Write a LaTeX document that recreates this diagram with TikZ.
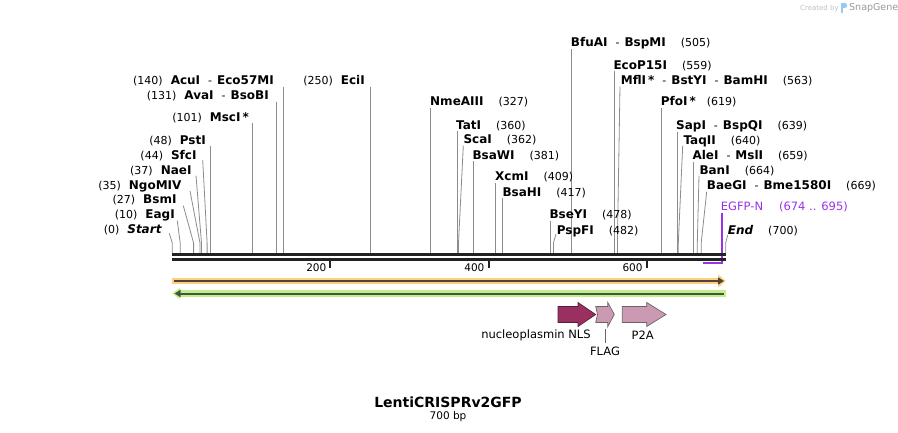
\documentclass[tikz,border=0pt]{standalone}
\usepackage{fontspec}
\setmainfont{DejaVu Sans}
\usetikzlibrary{arrows.meta}
\definecolor{cutgray}{RGB}{140,140,140}
\definecolor{backbone}{RGB}{34,34,34}
\definecolor{orfor}{RGB}{255,207,128}
\definecolor{orfordark}{RGB}{80,68,56}
\definecolor{orfgr}{RGB}{192,240,140}
\definecolor{orfgrdark}{RGB}{72,84,62}
\definecolor{nlsred}{RGB}{153,48,96}
\definecolor{nlsline}{RGB}{90,30,60}
\definecolor{featpink}{RGB}{204,153,179}
\definecolor{primer}{RGB}{153,51,230}
\definecolor{snapblue}{RGB}{150,200,240}
\newcommand{\enz}[1]{{\fontsize{12}{14}\selectfont\bfseries #1}}
\newcommand{\enzsep}{\hspace{8pt}-\hspace{5pt}}
\begin{document}
\begin{tikzpicture}[x=1pt,y=-1pt,
  cut/.style={cutgray,line width=0.8pt},
  lbl/.style={inner sep=0pt,font=\fontsize{11}{13}\selectfont},
  featlbl/.style={inner sep=0pt,font=\fontsize{11.5}{13}\selectfont}]
  \useasboundingbox (0,0) rectangle (898,433);
  % Watermark
  \node[inner sep=0pt,anchor=base west,text=black!25,font=\fontsize{7}{8}\selectfont] (made) at (800,10.5) {Created by};
  \fill[snapblue] (840.5,3) rectangle (843,13);
  \fill[snapblue] (843,3) -- (845,3) to[out=0,in=90] (847,5.5) to[out=-90,in=0] (845,8) -- (843,8) -- cycle;
  \node[inner sep=0pt,anchor=base west,text=black!40,font=\fontsize{9.5}{10}\selectfont] (snapgene) at (849,11) {SnapGene};
  % Enzyme cut lines (left side)
  \draw[cut] (169.3,233.3) -- (172.3,243) -- (172.3,253.5);
  \draw[cut] (177.3,220.7) -- (180.2,243) -- (180.2,253.5);
  \draw[cut] (183.3,205.7) -- (193.6,243) -- (193.6,253.5);
  \draw[cut] (190,191) -- (200,243) -- (200,253.5);
  \draw[cut] (196,175.7) -- (201.5,243) -- (201.5,253.5);
  \draw[cut] (202.7,160) -- (207.1,243) -- (207.1,253.5);
  \draw[cut] (210.2,146) -- (210.2,253.5);
  \draw[cut] (252.2,122.7) -- (252.2,253.5);
  \draw[cut] (275.9,101.7) -- (275.9,253.5);
  \draw[cut] (283,86.7) -- (283,253.5);
  \draw[cut] (369.9,86.7) -- (369.9,253.5);
  % Enzyme cut lines (right side)
  \draw[cut] (430.8,108.3) -- (430.8,253.5);
  \draw[cut] (456.9,131) -- (456.9,253.5);
  \draw[cut] (463.3,145.7) -- (458.5,243) -- (458.5,253.5);
  \draw[cut] (473.5,161) -- (473.5,253.5);
  \draw[cut] (495.7,182.7) -- (495.7,253.5);
  \draw[cut] (502,198.3) -- (502,253.5);
  \draw[cut] (550.2,221) -- (550.2,253.5);
  \draw[cut] (556,234) -- (553.4,243) -- (553.4,253.5);
  \draw[cut] (571.5,49) -- (571.5,253.5);
  \draw[cut] (614.2,70.7) -- (614.2,253.5);
  \draw[cut] (620,86.7) -- (617.4,243) -- (617.4,253.5);
  \draw[cut] (661.7,108.3) -- (661.7,253.5);
  \draw[cut] (677.5,131.7) -- (677.5,253.5);
  \draw[cut] (682.7,145.7) -- (678.3,243) -- (678.3,253.5);
  \draw[cut] (693.3,161.7) -- (693.3,253.5);
  \draw[cut] (699,175.7) -- (697.3,243) -- (697.3,253.5);
  \draw[cut] (706.7,191.7) -- (701.2,243) -- (701.2,253.5);
  \draw[cut] (727.7,235) -- (725.7,243) -- (725.7,253.5);
  % Labels (left side)
  \node[lbl,anchor=base east] (start) at (161.7,233.6) {(0)\hspace{8pt}\enz{\itshape Start}};
  \node[lbl,anchor=base east] (eagi) at (175,218.6) {(10)\hspace{8pt}\enz{EagI}};
  \node[lbl,anchor=base east] (bsmi) at (176.7,203.6) {(27)\hspace{8pt}\enz{BsmI}};
  \node[lbl,anchor=base east] (ngomiv) at (181.7,189.3) {(35)\hspace{8pt}\enz{NgoMIV}};
  \node[lbl,anchor=base east] (naei) at (191.7,174.3) {(37)\hspace{8pt}\enz{NaeI}};
  \node[lbl,anchor=base east] (sfci) at (196.7,159.3) {(44)\hspace{8pt}\enz{SfcI}};
  \node[lbl,anchor=base east] (psti) at (206,144.3) {(48)\hspace{8pt}\enz{PstI}};
  \node[lbl,anchor=base east] (msci) at (249,121.6) {(101)\hspace{8pt}\enz{MscI\,*}};
  \node[lbl,anchor=base east] (avai) at (269,99.3) {(131)\hspace{8pt}\enz{AvaI}\enzsep\enz{BsoBI}};
  \node[lbl,anchor=base east] (acui) at (274,84.3) {(140)\hspace{8pt}\enz{AcuI}\enzsep\enz{Eco57MI}};
  \node[lbl,anchor=base east] (ecii) at (365,84.3) {(250)\hspace{8pt}\enz{EciI}};
  % Labels (right side)
  \node[lbl,anchor=base west] (nmeaiii) at (430,106) {\enz{NmeAIII}\hspace{15pt}(327)};
  \node[lbl,anchor=base west] (tati) at (456,130) {\enz{TatI}\hspace{15pt}(360)};
  \node[lbl,anchor=base west] (scai) at (463.3,143.6) {\enz{ScaI}\hspace{15pt}(362)};
  \node[lbl,anchor=base west] (bsawi) at (472.3,159.3) {\enz{BsaWI}\hspace{15pt}(381)};
  \node[lbl,anchor=base west] (xcmi) at (495,181) {\enz{XcmI}\hspace{15pt}(409)};
  \node[lbl,anchor=base west] (bsahi) at (502.3,196.6) {\enz{BsaHI}\hspace{15pt}(417)};
  \node[lbl,anchor=base west] (bseyi) at (549.3,218.6) {\enz{BseYI}\hspace{15pt}(478)};
  \node[lbl,anchor=base west] (pspfi) at (556.7,234.3) {\enz{PspFI}\hspace{15pt}(482)};
  \node[lbl,anchor=base west] (bfuai) at (570.7,47) {\enz{BfuAI}\enzsep\enz{BspMI}\hspace{15pt}(505)};
  \node[lbl,anchor=base west] (ecop15i) at (613.3,69.3) {\enz{EcoP15I}\hspace{15pt}(559)};
  \node[lbl,anchor=base west] (mfli) at (620.7,84.3) {\enz{MflI\,*}\enzsep\enz{BstYI}\enzsep\enz{BamHI}\hspace{15pt}(563)};
  \node[lbl,anchor=base west] (pfoi) at (660.7,106) {\enz{PfoI\,*}\hspace{11pt}(619)};
  \node[lbl,anchor=base west] (sapi) at (676,129.3) {\enz{SapI}\enzsep\enz{BspQI}\hspace{15pt}(639)};
  \node[lbl,anchor=base west] (taqii) at (683.3,144.3) {\enz{TaqII}\hspace{15pt}(640)};
  \node[lbl,anchor=base west] (alei) at (692.3,159.3) {\enz{AleI}\enzsep\enz{MslI}\hspace{15pt}(659)};
  \node[lbl,anchor=base west] (bani) at (699.3,174.3) {\enz{BanI}\hspace{15pt}(664)};
  \node[lbl,anchor=base west] (baegi) at (706.7,189.3) {\enz{BaeGI}\enzsep\enz{Bme1580I}\hspace{15pt}(669)};
  \node[lbl,anchor=base west] (endlbl) at (727.7,234.3) {\enz{\itshape End}\hspace{15pt}(700)};
  % Primer EGFP-N
  \node[inner sep=0pt,anchor=base west,text=primer,font=\fontsize{11.5}{13}\selectfont] (egfpn) at (720.7,211) {EGFP-N\hspace{16pt}(674 .. 695)};
  \draw[primer,line width=1.6pt] (721.8,212.7) -- (721.8,263.3) -- (703.3,263.3);
  % Backbone
  \draw[backbone,line width=3pt] (172.3,255) -- (725.7,255);
  \draw[backbone,line width=2.5pt] (172.3,259.5) -- (725.7,259.5);
  % Ticks
  \draw[backbone,line width=2pt] (330.4,261) -- (330.4,268);
  \draw[backbone,line width=2pt] (488.5,261) -- (488.5,268);
  \draw[backbone,line width=2pt] (646.7,261) -- (646.7,268);
  \node[inner sep=0pt,anchor=base east,font=\fontsize{10.5}{12}\selectfont] (t200) at (326.5,271.5) {200};
  \node[inner sep=0pt,anchor=base east,font=\fontsize{10.5}{12}\selectfont] (t400) at (484.6,271.5) {400};
  \node[inner sep=0pt,anchor=base east,font=\fontsize{10.5}{12}\selectfont] (t600) at (642.8,271.5) {600};
  % ORF forward
  \draw[orfor,line width=6.3pt] (172.3,281) -- (718.3,281);
  \fill[orfor] (718.3,274.3) -- (725.7,281) -- (718.3,287.7) -- cycle;
  \draw[orfordark,line width=2pt,-{Triangle[length=6pt,width=7pt]}] (174,281) -- (724,281);
  % ORF reverse
  \draw[orfgr,line width=6.5pt] (180,293.5) -- (725.7,293.5);
  \fill[orfgr] (180,287.7) -- (172.3,293.5) -- (180,299.3) -- cycle;
  \draw[orfgrdark,line width=2pt,-{Triangle[length=6pt,width=7pt]}] (723.5,293.5) -- (174.5,293.5);
  % Features
  \filldraw[fill=nlsred,draw=nlsline,line width=0.7pt] (558,306.5) -- (578,306.5) -- (578,302.5) -- (595.7,314.5) -- (578,326.5) -- (578,322.5) -- (558,322.5) -- cycle;
  \filldraw[fill=featpink,draw=black!60,line width=0.7pt] (595.7,306.5) -- (607.8,306.5) -- (607.8,302.5) -- (614.3,314.5) -- (607.8,326.5) -- (607.8,322.5) -- (595.7,322.5) -- (597.5,314.5) -- cycle;
  \filldraw[fill=featpink,draw=black!60,line width=0.7pt] (622.3,306.5) -- (646.7,306.5) -- (646.7,302.5) -- (666,314.5) -- (646.7,326.5) -- (646.7,322.5) -- (622.3,322.5) -- cycle;
  \node[featlbl] (nlslbl) at (536,335.5) {nucleoplasmin NLS};
  \node[featlbl] (p2albl) at (642.7,335.5) {P2A};
  \node[featlbl] (flaglbl) at (605,351.5) {FLAG};
  \draw[black!60,line width=0.7pt] (605.3,329) -- (605.3,343.3);
  % Title
  \node[inner sep=0pt,anchor=base,font=\fontsize{14}{16}\selectfont\bfseries] (title) at (448,407.7) {LentiCRISPRv2GFP};
  \node[inner sep=0pt,anchor=base,font=\fontsize{10.5}{12}\selectfont] (size) at (448,419) {700 bp};
\end{tikzpicture}
\end{document}
